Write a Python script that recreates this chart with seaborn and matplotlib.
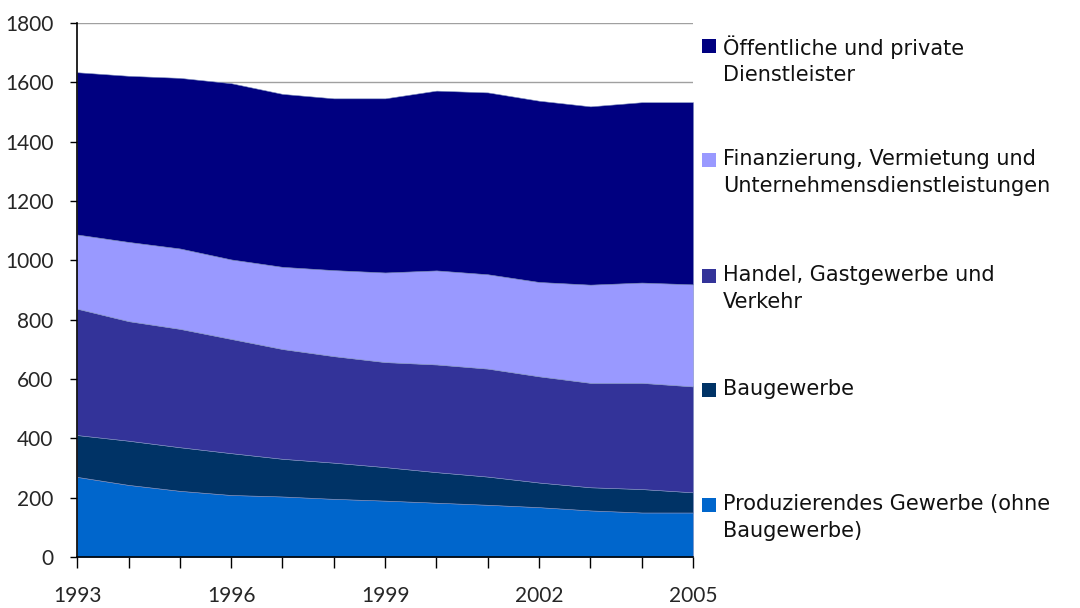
import numpy as np
import pandas as pd
import matplotlib
matplotlib.use("Agg")
import matplotlib.pyplot as plt
from matplotlib.patches import Rectangle
import seaborn as sns

years = list(range(1993, 2006))
series_names = [
    "Produzierendes Gewerbe (ohne\nBaugewerbe)",
    "Baugewerbe",
    "Handel, Gastgewerbe und\nVerkehr",
    "Finanzierung, Vermietung und\nUnternehmensdienstleistungen",
    "Öffentliche und private\nDienstleister",
]
produzierendes = [270, 243, 223, 209, 204, 196, 190, 183, 176, 168, 157, 150, 150]
baugewerbe = [141, 149, 147, 141, 127, 122, 113, 103, 95, 83, 78, 79, 68]
handel = [426, 403, 399, 385, 370, 359, 354, 363, 364, 358, 352, 358, 357]
finanzierung = [250, 267, 271, 268, 277, 290, 302, 317, 318, 318, 331, 338, 344]
oeffentlich = [547, 560, 575, 594, 583, 579, 587, 606, 613, 611, 601, 608, 614]
colors = ["#0066CC", "#003366", "#333399", "#9999FF", "#000080"]
y_ticks = [0, 200, 400, 600, 800, 1000, 1200, 1400, 1600, 1800]
x_label_years = [1993, 1996, 1999, 2002, 2005]

df = pd.DataFrame({
    "Jahr": years,
    series_names[0]: produzierendes,
    series_names[1]: baugewerbe,
    series_names[2]: handel,
    series_names[3]: finanzierung,
    series_names[4]: oeffentlich,
})

sns.set_theme(style="white")
plt.rcParams["font.family"] = ["Lato", "DejaVu Sans"]

fig = plt.figure(figsize=(10.8, 6.08), dpi=100)
ax = fig.add_axes([0.0715, 0.0839, 0.5702, 0.8783])

ax.set_axisbelow(True)
ax.yaxis.grid(True, color="#a0a0a0", linewidth=1.0)
ax.stackplot(df["Jahr"], [df[n] for n in series_names], colors=colors,
             edgecolor="#7f8fbf", linewidth=0.4, zorder=2)

ax.set_xlim(years[0], years[-1])
ax.set_ylim(0, 1800)
ax.set_yticks(y_ticks)
ax.set_xticks(x_label_years)
ax.set_xticks(years, minor=True)
ax.tick_params(axis="y", labelsize=15, length=5, width=1, color="black",
               direction="out", pad=12, left=True)
ax.tick_params(axis="x", which="both", labelsize=15, length=8, width=1,
               color="black", direction="out", pad=13, bottom=True)
for s in ["top", "right"]:
    ax.spines[s].set_visible(False)
for s in ["left", "bottom"]:
    ax.spines[s].set_color("black")
    ax.spines[s].set_linewidth(1.2)
ax.set_xlabel("")
ax.set_ylabel("")

# Legend (handle aligned with first text line, as in the reference)
legend_y = [46, 160, 276, 390, 505]  # pixel centres of first lines
order = [4, 3, 2, 1, 0]
for ypix, idx in zip(legend_y, order):
    yf = 1 - ypix / 608
    fig.patches.append(Rectangle((702 / 1080, yf - 7 / 608), 14 / 1080, 14 / 608,
                                 transform=fig.transFigure, facecolor=colors[idx],
                                 edgecolor="none"))
    fig.text(723 / 1080, yf + 11 / 608, series_names[idx], fontsize=15,
             family=["DejaVu Sans"], va="top", ha="left",
             linespacing=1.42, color="#111111")

fig.savefig("out.png", dpi=100)
